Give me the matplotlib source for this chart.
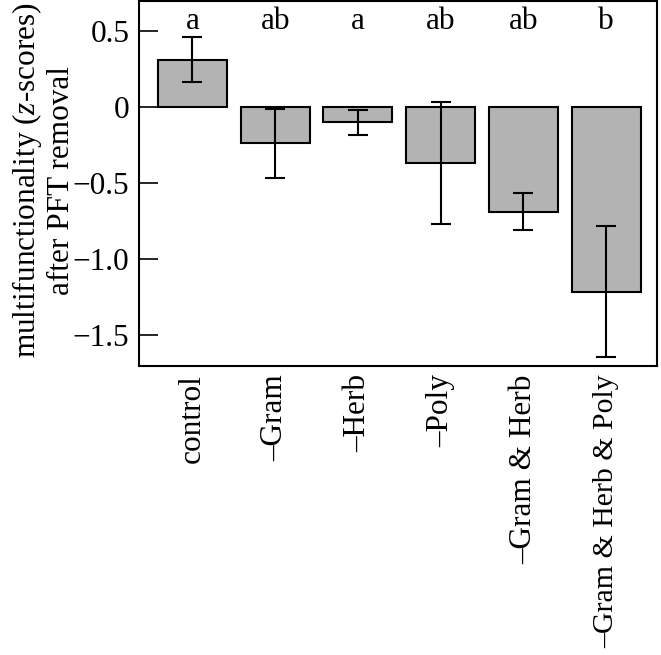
import numpy as np
import matplotlib
matplotlib.use("Agg")
import matplotlib.pyplot as plt

plt.rcParams['font.family'] = ['Liberation Serif', 'DejaVu Serif']
plt.rcParams['mathtext.fontset'] = 'custom'
plt.rcParams['mathtext.rm'] = 'Liberation Serif'
plt.rcParams['mathtext.it'] = 'Liberation Serif:italic'

# treatments and their mean multifunctionality (z-scores) with error
treatments = ["control", "\u2013Gram", "\u2013Herb", "\u2013Poly",
              "\u2013Gram & Herb", "\u2013Gram & Herb & Poly"]
means = [0.31, -0.24, -0.10, -0.37, -0.69, -1.215]
errors = [0.148, 0.23, 0.083, 0.40, 0.122, 0.43]
letters = ["a", "ab", "a", "ab", "ab", "b"]
yticks = [0.5, 0, -0.5, -1.0, -1.5]
ytick_labels = ["0.5", "0", "\u22120.5", "\u22121.0", "\u22121.5"]

fs = 22.5
fig = plt.figure(figsize=(6.61, 6.55), dpi=100)
ax = fig.add_axes([0.2103, 0.441, 0.7837, 0.5575])

x = np.arange(len(treatments))
ax.bar(x, means, width=0.835, color="#b3b3b3", edgecolor="black", linewidth=1.5)
ax.errorbar(x, means, yerr=errors, fmt="none", ecolor="black",
            elinewidth=1.5, capsize=7.5, capthick=1.5)

# significance letters above bars
for xi, lab in zip(x, letters):
    ax.text(xi, 0.56, lab, ha="center", va="center", fontsize=fs)

ax.set_xlim(-0.645, 5.615)
ax.set_ylim(-1.704, 0.697)
ax.set_yticks(yticks)
ax.set_yticklabels(ytick_labels, fontsize=fs)
ax.tick_params(axis="y", direction="in", length=13.5, width=1.2, pad=7)
ax.set_xticks(x)
ax.set_xticklabels(treatments, rotation=90, fontsize=fs, va="top", ha="center")
ax.get_xticklabels()[-1].set_fontsize(21.5)  # longest label, keep inside figure
ax.tick_params(axis="x", length=0, pad=6)
for s in ax.spines.values():
    s.set_linewidth(1.5)

fig.text(43 / 661, 0.725, "multifunctionality ($z$-scores)\nafter PFT removal",
         rotation=90, ha="center", va="center", fontsize=fs, linespacing=1.1)

fig.savefig("out.png", dpi=100)
